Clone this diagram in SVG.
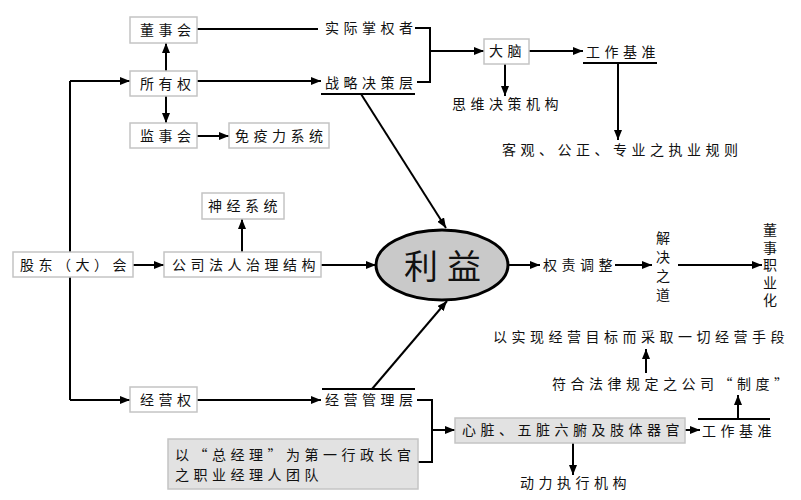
<svg xmlns="http://www.w3.org/2000/svg" width="801" height="500" viewBox="0 0 801 500">
<defs>
<marker id="ah" viewBox="0 0 10 8" refX="10" refY="4" markerWidth="10" markerHeight="8" markerUnits="userSpaceOnUse" orient="auto">
<path d="M0,0 L10,4 L0,8 Z" fill="#000"/>
</marker>
</defs>
<style>
.box{fill:#fff;stroke:#c4c4c4;stroke-width:1.5}
.gbox{fill:#e2e2e2;stroke:#c4c4c4;stroke-width:1.5}
text{font-family:"Noto Sans CJK SC","Noto Sans CJK JP",sans-serif;font-size:14px;fill:#111;letter-spacing:4.5px}
.ln{fill:none;stroke:#000;stroke-width:2}
.ar{fill:none;stroke:#000;stroke-width:2;marker-end:url(#ah)}
.vt{writing-mode:vertical-rl;text-orientation:upright}
</style>
<rect width="801" height="500" fill="#fff"/>

<g id="connectors">
<path class="ln" d="M197,29 H318"/>
<path class="ln" d="M415,28 H430 V82 H417"/>
<path class="ar" d="M430,51 H484"/>
<path class="ar" d="M166,71 V43"/>
<path class="ar" d="M166,96 V123"/>
<path class="ar" d="M197,136 H229"/>
<path class="ar" d="M197,81 H321"/>
<path class="ln" d="M70,81 V400"/>
<path class="ar" d="M70,81 H130"/>
<path class="ar" d="M70,400 H130"/>
<path class="ar" d="M133,265 H164"/>
<path class="ar" d="M242,252 V219"/>
<path class="ar" d="M321,265 H376"/>
<path class="ar" d="M505,64 V96"/>
<path class="ar" d="M529,51 H583"/>
<path class="ln" d="M583,63 H657"/>
<path class="ar" d="M618,63 V140"/>
<path class="ln" d="M321,94 H415"/>
<path class="ar" d="M361,94 L446,228"/>
<path class="ln" d="M322,389 H415"/>
<path class="ar" d="M372,389 L447,301"/>
<path class="ar" d="M508,265 H540"/>
<path class="ar" d="M615,265 H652"/>
<path class="ar" d="M678,265 H762"/>
<path class="ar" d="M646,373 V349"/>
<path class="ar" d="M197,400 H321"/>
<path class="ln" d="M417,400 H432 V462 H418"/>
<path class="ar" d="M432,430 H455"/>
<path class="ar" d="M685,430 H700"/>
<path class="ln" d="M698,419 H770"/>
<path class="ar" d="M738,419 V395"/>
<path class="ar" d="M573,443 V475"/>
</g>

<g id="n-dongshihui"><rect class="box" x="130" y="17" width="67" height="26"/><text x="140" y="35">董事会</text></g>
<g id="n-suoyouquan"><rect class="box" x="130" y="71" width="67" height="25"/><text x="140" y="89">所有权</text></g>
<g id="n-jianshihui"><rect class="box" x="130" y="123" width="67" height="25"/><text x="140" y="141">监事会</text></g>
<g id="n-mianyili"><rect class="box" x="229" y="123" width="100" height="25"/><text x="235" y="141">免疫力系统</text></g>
<g id="n-shiji"><text x="325" y="33">实际掌权者</text></g>
<g id="n-zhanlue"><text x="325" y="88">战略决策层</text></g>
<g id="n-danao"><rect class="box" x="484" y="39" width="45" height="25"/><text x="489" y="56">大脑</text></g>
<g id="n-siwei"><text x="452" y="109">思维决策机构</text></g>
<g id="n-gongzuo1"><text x="586" y="57">工作基准</text></g>
<g id="n-keguan"><text x="502" y="155">客观、公正、专业之执业规则</text></g>
<g id="n-gudong"><rect class="box" x="13" y="252" width="120" height="25"/><text x="20" y="270">股东（大）会</text></g>
<g id="n-gongsi"><rect class="box" x="164" y="252" width="157" height="25"/><text x="172" y="270">公司法人治理结构</text></g>
<g id="n-shenjing"><rect class="box" x="202" y="193" width="82" height="26"/><text x="208" y="211">神经系统</text></g>
<g id="n-liyi"><ellipse cx="442" cy="265" rx="66" ry="35" fill="#c9c9c9" stroke="#000" stroke-width="3"/><text x="404" y="279" style="font-size:34px;letter-spacing:9px">利益</text></g>
<g id="n-quanze"><text x="543" y="270">权责调整</text></g>
<g id="n-jiejue"><text class="vt" x="663" y="231" style="letter-spacing:5px">解决之道</text></g>
<g id="n-dongshizhiye"><text class="vt" x="770" y="223" style="letter-spacing:3.5px">董事职业化</text></g>
<g id="n-yishixian"><text x="493" y="342">以实现经营目标而采取一切经营手段</text></g>
<g id="n-fuhe"><text x="552" y="389">符合法律规定之公司“制度”</text></g>
<g id="n-gongzuo2"><text x="702" y="436">工作基准</text></g>
<g id="n-xinzang"><rect class="gbox" x="455" y="418" width="230" height="25"/><text x="462" y="435">心脏、五脏六腑及肢体器官</text></g>
<g id="n-dongli"><text x="520" y="488">动力执行机构</text></g>
<g id="n-jingyingquan"><rect class="box" x="130" y="387" width="67" height="25"/><text x="140" y="405">经营权</text></g>
<g id="n-jingyingguanli"><text x="325" y="405">经营管理层</text></g>
<g id="n-zongjingli"><rect class="gbox" x="168" y="439" width="250" height="50"/><text x="175" y="460">以“总经理”为第一行政长官</text><text x="175" y="480">之职业经理人团队</text></g>
</svg>
